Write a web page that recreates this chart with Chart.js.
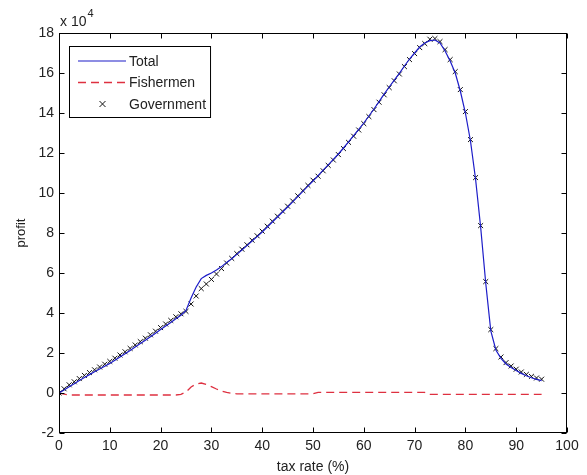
<!DOCTYPE html>
<html>
<head>
<meta charset="utf-8">
<script src="https://cdn.jsdelivr.net/npm/chart.js@4.4.1/dist/chart.umd.min.js"></script>
<style>
html, body { margin: 0; padding: 0; background: #fff; }
</style>
</head>
<body>
<canvas id="profitChart" width="587" height="475"></canvas>
<script>

// profit values are in units of 10^4
var taxRate = [0,1,2,3,4,5,6,7,8,9,10,11,12,13,14,15,16,17,18,19,20,21,22,23,24,25,26,27,28,29,30,31,32,33,34,35,36,37,38,39,40,41,42,43,44,45,46,47,48,49,50,51,52,53,54,55,56,57,58,59,60,61,62,63,64,65,66,67,68,69,70,71,72,73,74,75,76,77,78,79,80,81,82,83,84,85,86,87,88,89,90,91,92,93,94,95];

var totalProfit = [0.00,0.15,0.31,0.46,0.62,0.78,0.92,1.06,1.20,1.34,1.48,1.64,1.80,1.96,2.13,2.30,2.47,2.64,2.81,2.99,3.17,3.35,3.53,3.71,3.89,4.13,4.75,5.30,5.72,5.88,6.00,6.15,6.32,6.53,6.71,6.93,7.15,7.37,7.60,7.82,8.05,8.30,8.55,8.80,9.05,9.30,9.56,9.82,10.08,10.34,10.60,10.87,11.14,11.41,11.68,11.95,12.25,12.56,12.87,13.18,13.50,13.85,14.20,14.57,14.94,15.30,15.64,15.98,16.35,16.70,17.00,17.30,17.50,17.62,17.65,17.50,17.10,16.60,16.00,15.10,14.00,12.60,10.70,8.30,5.50,3.10,2.15,1.73,1.45,1.28,1.12,0.98,0.86,0.76,0.68,0.62];

var fishermenProfit = [0.00,-0.06,-0.10,-0.10,-0.10,-0.10,-0.10,-0.10,-0.10,-0.10,-0.10,-0.10,-0.10,-0.10,-0.10,-0.10,-0.10,-0.10,-0.10,-0.10,-0.10,-0.10,-0.10,-0.10,-0.07,0.05,0.30,0.45,0.50,0.43,0.32,0.20,0.10,0.03,-0.02,-0.04,-0.04,-0.04,-0.04,-0.04,-0.04,-0.04,-0.04,-0.04,-0.04,-0.04,-0.04,-0.04,-0.04,-0.04,-0.04,0.03,0.03,0.03,0.03,0.03,0.03,0.03,0.03,0.03,0.03,0.03,0.03,0.03,0.03,0.03,0.03,0.03,0.03,0.03,0.03,0.03,0.03,-0.07,-0.07,-0.07,-0.07,-0.07,-0.07,-0.07,-0.07,-0.07,-0.07,-0.07,-0.07,-0.07,-0.07,-0.07,-0.07,-0.07,-0.07,-0.07,-0.07,-0.07,-0.07,-0.07];

var governmentProfit = [0.00,0.21,0.41,0.56,0.72,0.88,1.02,1.16,1.30,1.44,1.58,1.74,1.90,2.06,2.23,2.40,2.57,2.74,2.91,3.09,3.27,3.45,3.63,3.81,3.96,4.08,4.45,4.85,5.22,5.45,5.68,5.95,6.22,6.50,6.73,6.97,7.19,7.41,7.64,7.86,8.09,8.34,8.59,8.84,9.09,9.34,9.60,9.86,10.12,10.38,10.64,10.84,11.11,11.38,11.65,11.92,12.22,12.53,12.84,13.15,13.47,13.82,14.17,14.54,14.91,15.27,15.61,15.95,16.32,16.67,16.97,17.27,17.47,17.69,17.72,17.57,17.17,16.67,16.07,15.17,14.07,12.67,10.77,8.37,5.57,3.17,2.22,1.80,1.52,1.35,1.19,1.05,0.93,0.83,0.75,0.69];

var xTicks = [0,10,20,30,40,50,60,70,80,90,100];
var yTicks = [-2,0,2,4,6,8,10,12,14,16,18];

var FONT = 'Liberation Sans';

function toPoints(xs, ys){
	var pts = [];
	for (var i = 0; i < xs.length; i++) { pts.push({x: xs[i], y: ys[i]}); }
	return pts;
}

// box around the axes, inward ticks, exponent label and the legend inside the plot
var matlabFrame = {
	id: 'matlabFrame',
	afterDraw: function(chart){
		var ctx = chart.ctx;
		var a = chart.chartArea;
		var sx = chart.scales.x, sy = chart.scales.y;
		var L = Math.round(a.left) + 0.5, R = Math.round(a.right) - 0.5;
		var T = Math.round(a.top) + 0.5, B = Math.round(a.bottom) - 0.5;

		ctx.save();
		ctx.strokeStyle = '#000';
		ctx.lineWidth = 1;
		ctx.strokeRect(L, T, R - L, B - T);

		ctx.beginPath();
		xTicks.forEach(function(v){
			var px = Math.round(sx.getPixelForValue(v)) + 0.5;
			ctx.moveTo(px, B); ctx.lineTo(px, B - 5);
			ctx.moveTo(px, T); ctx.lineTo(px, T + 5);
		});
		yTicks.forEach(function(v){
			var py = Math.round(sy.getPixelForValue(v)) + 0.5;
			ctx.moveTo(L, py); ctx.lineTo(L + 5, py);
			ctx.moveTo(R, py); ctx.lineTo(R - 5, py);
		});
		ctx.stroke();

		// x 10^4
		ctx.fillStyle = '#222';
		ctx.textBaseline = 'alphabetic';
		ctx.textAlign = 'left';
		ctx.font = '14px "' + FONT + '"';
		ctx.fillText('x 10', 60, 26);
		var w10 = ctx.measureText('x 10').width;
		ctx.font = '11px "' + FONT + '"';
		ctx.fillText('4', 60 + w10 + 1, 17);

		// legend
		var ds = chart.data.datasets;
		ctx.font = '14px "' + FONT + '"';
		var maxW = 0;
		ds.forEach(function(d){ maxW = Math.max(maxW, ctx.measureText(d.label).width); });
		var bx = 69.5, by = 46.5, bw = 60 + maxW + 4, bh = 71;
		ctx.fillStyle = '#fff';
		ctx.fillRect(bx, by, bw, bh);
		ctx.strokeStyle = '#000';
		ctx.lineWidth = 1;
		ctx.strokeRect(bx, by, bw, bh);

		ds.forEach(function(d, i){
			var cy = 61 + i * 21.5;
			if (d.showLine !== false) {
				ctx.save();
				ctx.strokeStyle = d.borderColor;
				ctx.lineWidth = d.borderWidth;
				ctx.setLineDash(d.borderDash || []);
				ctx.beginPath();
				ctx.moveTo(78, cy); ctx.lineTo(126, cy);
				ctx.stroke();
				ctx.restore();
			} else {
				ctx.save();
				ctx.strokeStyle = d.borderColor;
				ctx.lineWidth = 1;
				ctx.beginPath();
				ctx.moveTo(99.5, cy - 3); ctx.lineTo(105.5, cy + 3);
				ctx.moveTo(105.5, cy - 3); ctx.lineTo(99.5, cy + 3);
				ctx.stroke();
				ctx.restore();
			}
			ctx.fillStyle = '#222';
			ctx.textBaseline = 'middle';
			ctx.fillText(d.label, 129, cy + 1);
		});
		ctx.restore();
	}
};

var chart_settings = {
	type: 'line',
	data: {
		datasets: [
			{
				label: 'Total',
				data: toPoints(taxRate, totalProfit),
				borderColor: '#1c1cc8',
				borderWidth: 1.2,
				pointRadius: 0,
				tension: 0
			},
			{
				label: 'Fishermen',
				data: toPoints(taxRate, fishermenProfit),
				borderColor: '#de3040',
				borderWidth: 1.3,
				borderDash: [8, 5],
				pointRadius: 0,
				tension: 0
			},
			{
				label: 'Government',
				data: toPoints(taxRate, governmentProfit),
				showLine: false,
				borderColor: '#111',
				backgroundColor: '#111',
				borderWidth: 1,
				pointStyle: 'crossRot',
				pointRadius: 3.5
			}
		]
	},
	options: {
		responsive: false,
		animation: false,
		devicePixelRatio: 1,
		layout: { padding: { left: 0, right: 20, top: 33, bottom: 0 } },
		plugins: {
			legend: { display: false },
			tooltip: { enabled: false }
		},
		scales: {
			x: {
				type: 'linear',
				min: 0,
				max: 100,
				afterBuildTicks: function(scale){ scale.ticks = xTicks.map(function(v){ return {value: v}; }); },
				afterFit: function(scale){ scale.height = 42; },
				grid: { display: false, drawTicks: false },
				border: { display: false },
				ticks: { padding: 5, color: '#222', font: { family: FONT, size: 14 }, maxRotation: 0 },
				title: { display: true, text: 'tax rate (%)', color: '#222', font: { family: FONT, size: 14 }, padding: { top: 0, bottom: -1 } }
			},
			y: {
				type: 'linear',
				min: -2,
				max: 18,
				afterBuildTicks: function(scale){ scale.ticks = yTicks.map(function(v){ return {value: v}; }); },
				afterFit: function(scale){ scale.width = 59; },
				grid: { display: false, drawTicks: false },
				border: { display: false },
				ticks: { padding: 5, color: '#222', font: { family: FONT, size: 14 } },
				title: { display: true, text: 'profit', color: '#222', font: { family: FONT, size: 13 }, padding: { top: 14, bottom: 0 } }
			}
		}
	},
	plugins: [matlabFrame]
};

var chart_element = document.getElementById('profitChart');
var profit_chart = new Chart(chart_element, chart_settings);

</script>
</body>
</html>
